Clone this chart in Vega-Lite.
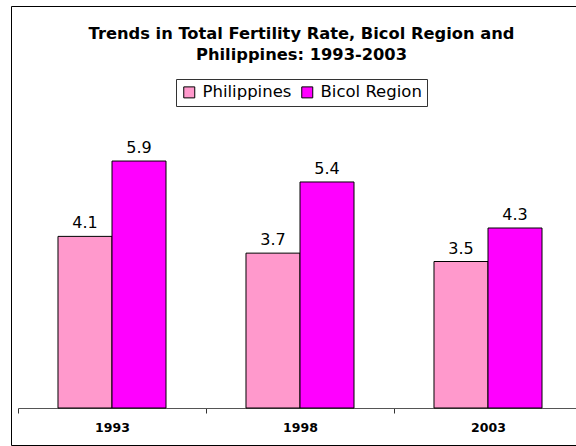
{
  "$schema": "https://vega.github.io/schema/vega-lite/v6.json",
  "width": 570,
  "height": 439,
  "padding": {"left": 11, "top": 6, "right": 0, "bottom": 1},
  "autosize": {"type": "none"},
  "background": "white",
  "title": {
    "text": ["Trends in Total Fertility Rate, Bicol Region and", "Philippines: 1993-2003"],
    "font": "DejaVu Sans",
    "fontSize": 16.3,
    "fontWeight": "bold",
    "color": "black",
    "anchor": "middle",
    "frame": "group",
    "offset": -57,
    "dx": 5.5,
    "lineHeight": 21
  },
  "config": {
    "view": {"stroke": "black", "strokeWidth": 1},
    "font": "DejaVu Sans"
  },
  "data": {
    "values": [
      {"year": "1993", "region": "Philippines", "tfr": 4.1},
      {"year": "1993", "region": "Bicol Region", "tfr": 5.9},
      {"year": "1998", "region": "Philippines", "tfr": 3.7},
      {"year": "1998", "region": "Bicol Region", "tfr": 5.4},
      {"year": "2003", "region": "Philippines", "tfr": 3.5},
      {"year": "2003", "region": "Bicol Region", "tfr": 4.3}
    ]
  },
  "encoding": {
    "x": {
      "field": "year",
      "type": "nominal",
      "scale": {"range": [7, 571], "paddingInner": 0, "paddingOuter": 0},
      "axis": {
        "title": null,
        "tickBand": "extent",
        "offset": -37,
        "domainColor": "#555555",
        "tickColor": "#333333",
        "tickSize": 5,
        "labelFont": "DejaVu Sans",
        "labelFontWeight": "bold",
        "labelFontSize": 12.5,
        "labelColor": "black",
        "labelPadding": 8,
        "labelAngle": 0,
        "grid": false
      }
    },
    "xOffset": {
      "field": "region",
      "type": "nominal",
      "sort": ["Philippines", "Bicol Region"],
      "scale": {"paddingInner": 0, "paddingOuter": 0.7407}
    },
    "y": {
      "field": "tfr",
      "type": "quantitative",
      "scale": {"domain": [0, 7], "range": [402, 109]},
      "axis": null
    }
  },
  "layer": [
    {
      "mark": {"type": "bar", "stroke": "black", "strokeWidth": 1, "opacity": 1},
      "encoding": {
        "color": {
          "field": "region",
          "type": "nominal",
          "sort": ["Philippines", "Bicol Region"],
          "scale": {"domain": ["Philippines", "Bicol Region"], "range": ["#FF99CC", "#FF00FF"]},
          "legend": {
            "orient": "none",
            "legendX": 165,
            "legendY": 73,
            "direction": "horizontal",
            "title": null,
            "strokeColor": "#333333",
            "fillColor": "white",
            "padding": 5,
            "symbolType": "square",
            "symbolSize": 121,
            "symbolStrokeColor": "black",
            "symbolStrokeWidth": 1,
            "symbolOpacity": 1,
            "labelFont": "DejaVu Sans",
            "labelFontSize": 16.5,
            "labelColor": "black",
            "labelOffset": 5,
            "columnPadding": 7
          }
        }
      }
    },
    {
      "mark": {"type": "text", "dy": -8, "baseline": "alphabetic", "fontSize": 16, "font": "DejaVu Sans", "color": "black"},
      "encoding": {
        "text": {"field": "tfr", "type": "quantitative", "format": ".1f"}
      }
    }
  ]
}
